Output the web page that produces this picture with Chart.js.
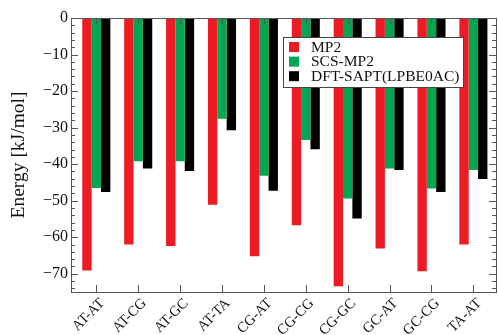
<!DOCTYPE html>
<html>
<head>
<meta charset="utf-8">
<script src="https://cdn.jsdelivr.net/npm/chart.js@4/dist/chart.umd.min.js"></script>
<style>
  html, body { margin: 0; padding: 0; background: #ffffff; }
  #wrap { width: 498px; height: 335px; position: relative; }
</style>
</head>
<body>
<div id="wrap"><canvas id="c" width="498" height="335"></canvas></div>
<script>
const categories = ['AT-AT', 'AT-CG', 'AT-GC', 'AT-TA', 'CG-AT', 'CG-CG', 'CG-GC', 'GC-AT', 'GC-CG', 'TA-AT'];
const mp2     = [-69.1, -62.0, -62.4, -51.1, -65.2, -56.7, -73.4, -63.1, -69.3, -62.0];
const scsMp2  = [-46.5, -39.2, -39.2, -27.6, -43.2, -33.4, -49.4, -41.2, -46.7, -41.6];
const dftSapt = [-47.6, -41.2, -41.9, -30.7, -47.3, -35.9, -54.9, -41.6, -47.6, -44.1];
const seriesNames = ['MP2', 'SCS-MP2', 'DFT-SAPT(LPBE0AC)'];
const yTickValues = [0, -10, -20, -30, -40, -50, -60, -70];
const yAxisTitle = 'Energy [kJ/mol]';

const colors = ['#ed1c24', '#00a651', '#000000'];
const SERIF = "'Liberation Serif', 'Times New Roman', serif";

function toPoints(arr) { return arr.map((v, i) => ({ x: i + 1, y: v })); }

const framePlugin = {
  id: 'frame',
  afterDatasetsDraw(chart) {
    const ctx = chart.ctx;
    const a = chart.chartArea;
    const xs = chart.scales.x, ys = chart.scales.y;
    ctx.save();
    ctx.strokeStyle = '#555555';
    ctx.lineWidth = 1;
    ctx.strokeRect(Math.round(a.left) + 0.5, Math.round(a.top) + 0.5,
                   Math.round(a.right - a.left), Math.round(a.bottom - a.top));
    ctx.beginPath();
    for (let v = 0; v >= ys.min; v -= 2) {
      const y = Math.round(ys.getPixelForValue(v)) + 0.5;
      const len = (v % 10 === 0) ? 7 : 4;
      ctx.moveTo(a.left, y); ctx.lineTo(a.left + len, y);
      ctx.moveTo(a.right, y); ctx.lineTo(a.right - len, y);
    }
    categories.forEach((c, i) => {
      const x = Math.round(xs.getPixelForValue(i + 1)) + 0.5;
      ctx.moveTo(x, a.bottom); ctx.lineTo(x, a.bottom - 7);
      ctx.moveTo(x, a.top); ctx.lineTo(x, a.top + 6);
    });
    ctx.stroke();

    const lx = a.left + 212, ly = a.top + 19, lw = 180, lh = 50;
    ctx.fillStyle = '#ffffff';
    ctx.fillRect(lx, ly, lw, lh);
    ctx.strokeStyle = '#444444';
    ctx.strokeRect(lx + 0.5, ly + 0.5, lw, lh);
    ctx.font = '15.5px ' + SERIF;
    ctx.textBaseline = 'middle';
    ctx.textAlign = 'left';
    chart.data.datasets.forEach((ds, i) => {
      const cy = ly + 10 + i * 14.6;
      ctx.fillStyle = ds.backgroundColor;
      ctx.fillRect(lx + 6, cy - 5, 10, 10);
      ctx.fillStyle = '#111111';
      ctx.fillText(ds.label, lx + 28, cy + 0.5);
    });
    ctx.restore();
  }
};

new Chart(document.getElementById('c'), {
  type: 'bar',
  data: {
    datasets: [
      { label: seriesNames[0], data: toPoints(mp2), backgroundColor: colors[0] },
      { label: seriesNames[1], data: toPoints(scsMp2), backgroundColor: colors[1] },
      { label: seriesNames[2], data: toPoints(dftSapt), backgroundColor: colors[2] }
    ]
  },
  options: {
    responsive: false,
    animation: false,
    layout: { padding: { top: 18, right: 2, left: 0, bottom: 0 } },
    datasets: { bar: { barPercentage: 1.0, categoryPercentage: 0.67, borderWidth: 0 } },
    plugins: { legend: { display: false }, tooltip: { enabled: false } },
    scales: {
      x: {
        type: 'linear',
        min: 0.396,
        max: 10.54,
        offset: false,
        grid: { display: false, drawTicks: false },
        border: { display: false },
        afterBuildTicks: s => { s.ticks = categories.map((c, i) => ({ value: i + 1 })); },
        afterFit: s => { s.height = 43; },
        ticks: {
          autoSkip: false,
          minRotation: 45,
          maxRotation: 45,
          padding: 3,
          labelOffset: 6,
          color: '#111111',
          font: { family: SERIF, size: 14.5 },
          callback: v => categories[Math.round(v) - 1] || ''
        }
      },
      y: {
        min: -75,
        max: 0,
        grid: { display: false, drawTicks: false },
        border: { display: false },
        afterBuildTicks: s => { s.ticks = yTickValues.map(v => ({ value: v })); },
        afterFit: s => { s.width = 71; },
        ticks: {
          padding: 3,
          color: '#111111',
          font: { family: SERIF, size: 16 },
          callback: v => String(v).replace('-', '\u2212')
        },
        title: {
          display: true,
          text: yAxisTitle,
          color: '#111111',
          font: { family: SERIF, size: 19.5 },
          padding: { top: 7, bottom: 0 }
        }
      }
    }
  },
  plugins: [framePlugin]
});
</script>
</body>
</html>
